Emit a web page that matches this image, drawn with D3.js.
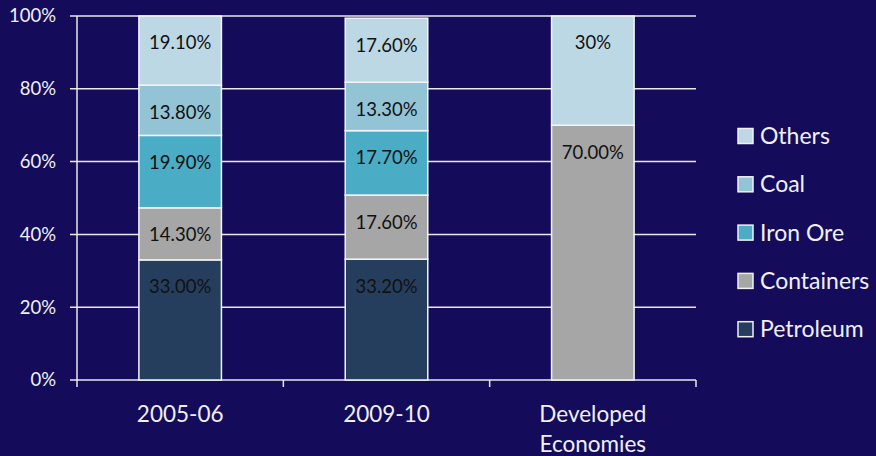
<!DOCTYPE html>
<html><head><meta charset="utf-8">
<script src="https://cdn.jsdelivr.net/npm/d3@7"></script>
<style>body{margin:0;background:#140c5a;}svg{display:block;font-family:Lato, "Open Sans", sans-serif;}</style>
</head><body><svg id="c" width="876" height="456"></svg>
<script>
const categories = [["2005-06"], ["2009-10"], ["Developed", "Economies"]];
const seriesNames = ["Petroleum", "Containers", "Iron Ore", "Coal", "Others"];
const petroleum = [33.0, 33.2, 0];
const containers = [14.3, 17.6, 70.0];
const ironOre = [19.9, 17.7, 0];
const coal = [13.8, 13.3, 0];
const others = [19.1, 17.6, 30];
const labelText = [
  ["33.00%", "33.20%", ""],
  ["14.30%", "17.60%", "70.00%"],
  ["19.90%", "17.70%", ""],
  ["13.80%", "13.30%", ""],
  ["19.10%", "17.60%", "30%"]
];
const yTicks = [0, 20, 40, 60, 80, 100];
const colors = ["#253e5e", "#a6a6a6", "#4bacc6", "#93c4d6", "#bcd8e4"];

const svg = d3.select("#c");
const pLeft = 77, pRight = 696, pTop = 16, pBottom = 380;
const keys = categories.map(c => c.join(" "));
const x = d3.scaleBand().domain(keys).range([pLeft, pRight]).paddingInner(0.6).paddingOuter(0.3);
const y = d3.scaleLinear().domain([0, 100]).range([pBottom, pTop]);

const seriesVals = [petroleum, containers, ironOre, coal, others];
const rows = keys.map((k, i) => {
  const r = {key: k};
  seriesNames.forEach((s, j) => r[s] = seriesVals[j][i]);
  return r;
});
const stacked = d3.stack().keys(seriesNames)(rows);

svg.append("g").selectAll("line").data(yTicks).join("line")
  .attr("x1", pLeft - 7).attr("x2", pRight).attr("y1", d => y(d)).attr("y2", d => y(d))
  .attr("stroke", "#e8e8ee").attr("stroke-width", 1.5);

svg.append("g").selectAll("text").data(yTicks).join("text")
  .attr("x", 56).attr("y", d => y(d)).attr("dy", "0.35em").attr("text-anchor", "end")
  .attr("fill", "#f0f0f5").attr("font-size", 18.5).text(d => d + "%");

svg.append("line").attr("x1", pLeft).attr("x2", pLeft).attr("y1", pTop).attr("y2", pBottom + 7)
  .attr("stroke", "#e8e8ee").attr("stroke-width", 1.5);

const step = x.step();
const bounds = keys.map((k, i) => x(k) + x.bandwidth() + (step - x.bandwidth()) / 2);
svg.append("g").selectAll("line").data(bounds).join("line")
  .attr("x1", d => d).attr("x2", d => d).attr("y1", pBottom).attr("y2", pBottom + 7)
  .attr("stroke", "#e8e8ee").attr("stroke-width", 1.5);

stacked.forEach((layer, j) => {
  svg.append("g").selectAll("rect").data(layer.filter(d => d[1] - d[0] > 0)).join("rect")
    .attr("x", d => x(d.data.key)).attr("width", x.bandwidth())
    .attr("y", d => y(Math.min(100, d[1]))).attr("height", d => y(d[0]) - y(Math.min(100, d[1])))
    .attr("fill", colors[j]).attr("stroke", "#f4f4f8").attr("stroke-width", 1.5);
});
stacked.forEach((layer, j) => {
  svg.append("g").selectAll("text").data(layer.map((d, i) => ({d, t: labelText[j][i]})).filter(o => o.t)).join("text")
    .attr("x", o => x(o.d.data.key) + x.bandwidth() / 2)
    .attr("y", o => y(Math.min(100, o.d[1])) + 27).attr("dy", "0.35em")
    .attr("text-anchor", "middle").attr("fill", "#111").attr("font-size", 18.5).text(o => o.t);
});

categories.forEach((c, i) => {
  const t = svg.append("text").attr("x", x(keys[i]) + x.bandwidth() / 2).attr("y", 422)
    .attr("text-anchor", "middle").attr("fill", "#f0f0f5").attr("font-size", 22.5);
  c.forEach((line, k) => t.append("tspan").attr("x", x(keys[i]) + x.bandwidth() / 2).attr("dy", k ? 30 : 0).text(line));
});

const legendOrder = [4, 3, 2, 1, 0];
const lg = svg.append("g").selectAll("g").data(legendOrder).join("g")
  .attr("transform", (d, i) => `translate(738, ${136 + i * 48.3})`);
lg.append("rect").attr("x", 0).attr("y", -7.5).attr("width", 15).attr("height", 15)
  .attr("fill", d => colors[d]).attr("stroke", "#f0f0f5").attr("stroke-width", 1.5);
lg.append("text").attr("x", 22).attr("dy", "0.35em").attr("fill", "#f0f0f5").attr("font-size", 23)
  .text(d => seriesNames[d]);
</script></body></html>
